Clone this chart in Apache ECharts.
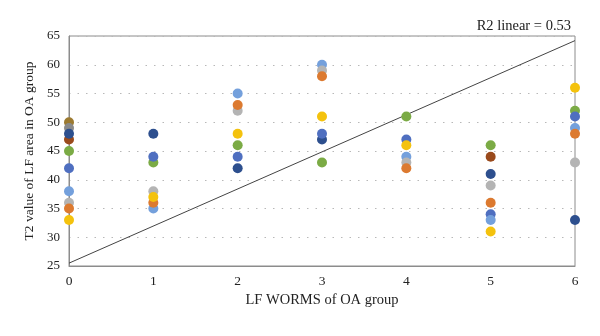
<!DOCTYPE html>
<html>
<head>
<meta charset="utf-8">
<script src="https://cdn.jsdelivr.net/npm/echarts@6/dist/echarts.min.js"></script>
<style>
  html, body { margin: 0; padding: 0; background: #fff; }
  #chart { width: 600px; height: 336px; }
</style>
</head>
<body>
<div id="chart"></div>
<script>
// LF WORMS scores (x) of the OA group
const worms = [0, 1, 2, 3, 4, 5, 6];

// T2 values per subject series, one value per WORMS score (null = no point)
const seriesBlue      = [42, 44, 44, 48, 47, 34, 51];
const seriesOrange    = [35, 36, 53, 58, 42, 36, 48];
const seriesGray      = [36, 38, 52, 59, 43, 39, 43];
const seriesYellow    = [33, 37, 48, 51, 46, 31, 56];
const seriesLightBlue = [38, 35, 55, 60, 44, 33, 49];
const seriesGreen     = [45, 43, 46, 43, 51, 46, 52];
const seriesDarkBlue  = [48, 48, 42, 47, null, 41, 33];
const seriesBrown     = [47, null, null, null, null, 44, null];
const seriesDarkGray  = [49, null, null, null, null, null, null];
const seriesDarkGold  = [50, null, null, null, null, null, null];

// Linear fit endpoints (x, T2)
const fitLine = [[0, 25.5], [6, 64.2]];
const fitLabel = 'R2 linear = 0.53';

const yTicks = [25, 30, 35, 40, 45, 50, 55, 60, 65];

const groups = [
  { data: seriesDarkGold,  color: '#9c7a30' },
  { data: seriesDarkGray,  color: '#8a8a8a' },
  { data: seriesBrown,     color: '#9a4a1c' },
  { data: seriesDarkBlue,  color: '#2d4f8e' },
  { data: seriesGreen,     color: '#7bab45' },
  { data: seriesBlue,      color: '#4f6fc0' },
  { data: seriesLightBlue, color: '#74a0dc' },
  { data: seriesGray,      color: '#b4b4b4' },
  { data: seriesOrange,    color: '#dc7a30' },
  { data: seriesYellow,    color: '#f4c20d' }
];

const font = '"Liberation Serif", "DejaVu Serif", serif';

const scatterSeries = groups.map(g => ({
  type: 'scatter',
  symbolSize: 10,
  itemStyle: { color: g.color, opacity: 1 },
  data: worms.map((x, i) => g.data[i] == null ? null : [x, g.data[i]]).filter(p => p),
  z: 3
}));

const chart = echarts.init(document.getElementById('chart'), null, { renderer: 'canvas' });
chart.setOption({
  backgroundColor: '#ffffff',
  animation: false,
  grid: { left: 69, right: 25, top: 36, bottom: 70, show: true, borderColor: '#8c8c8c', borderWidth: 1 },
  xAxis: {
    type: 'value', min: 0, max: 6, interval: 1,
    name: 'LF WORMS of OA group', nameLocation: 'middle', nameGap: 24,
    nameTextStyle: { fontFamily: font, fontSize: 14.5, color: '#222' },
    axisLine: { show: true, lineStyle: { color: '#8c8c8c' } },
    axisTick: { show: false },
    axisLabel: { fontFamily: font, fontSize: 13.5, color: '#222', margin: 8 },
    splitLine: { show: false }
  },
  yAxis: {
    type: 'value', min: yTicks[0], max: yTicks[yTicks.length - 1], interval: 5,
    name: 'T2 value of LF area in OA group', nameLocation: 'middle', nameGap: 33,
    nameTextStyle: { fontFamily: font, fontSize: 13.5, color: '#222' },
    axisLine: { show: true, lineStyle: { color: '#8c8c8c' } },
    axisTick: { show: false },
    axisLabel: { fontFamily: font, fontSize: 13, color: '#222', margin: 9 },
    splitLine: { show: true, lineStyle: { color: '#b8b8b8', type: [1.5, 7], width: 1 } }
  },
  graphic: [{
    type: 'text', right: 29, top: 19,
    style: { text: fitLabel, font: '14.5px ' + font, fill: '#222' }
  }],
  series: [
    {
      type: 'line', data: fitLine, symbol: 'none', z: 2,
      lineStyle: { color: '#444', width: 1 }
    },
    ...scatterSeries
  ]
});
</script>
</body>
</html>
